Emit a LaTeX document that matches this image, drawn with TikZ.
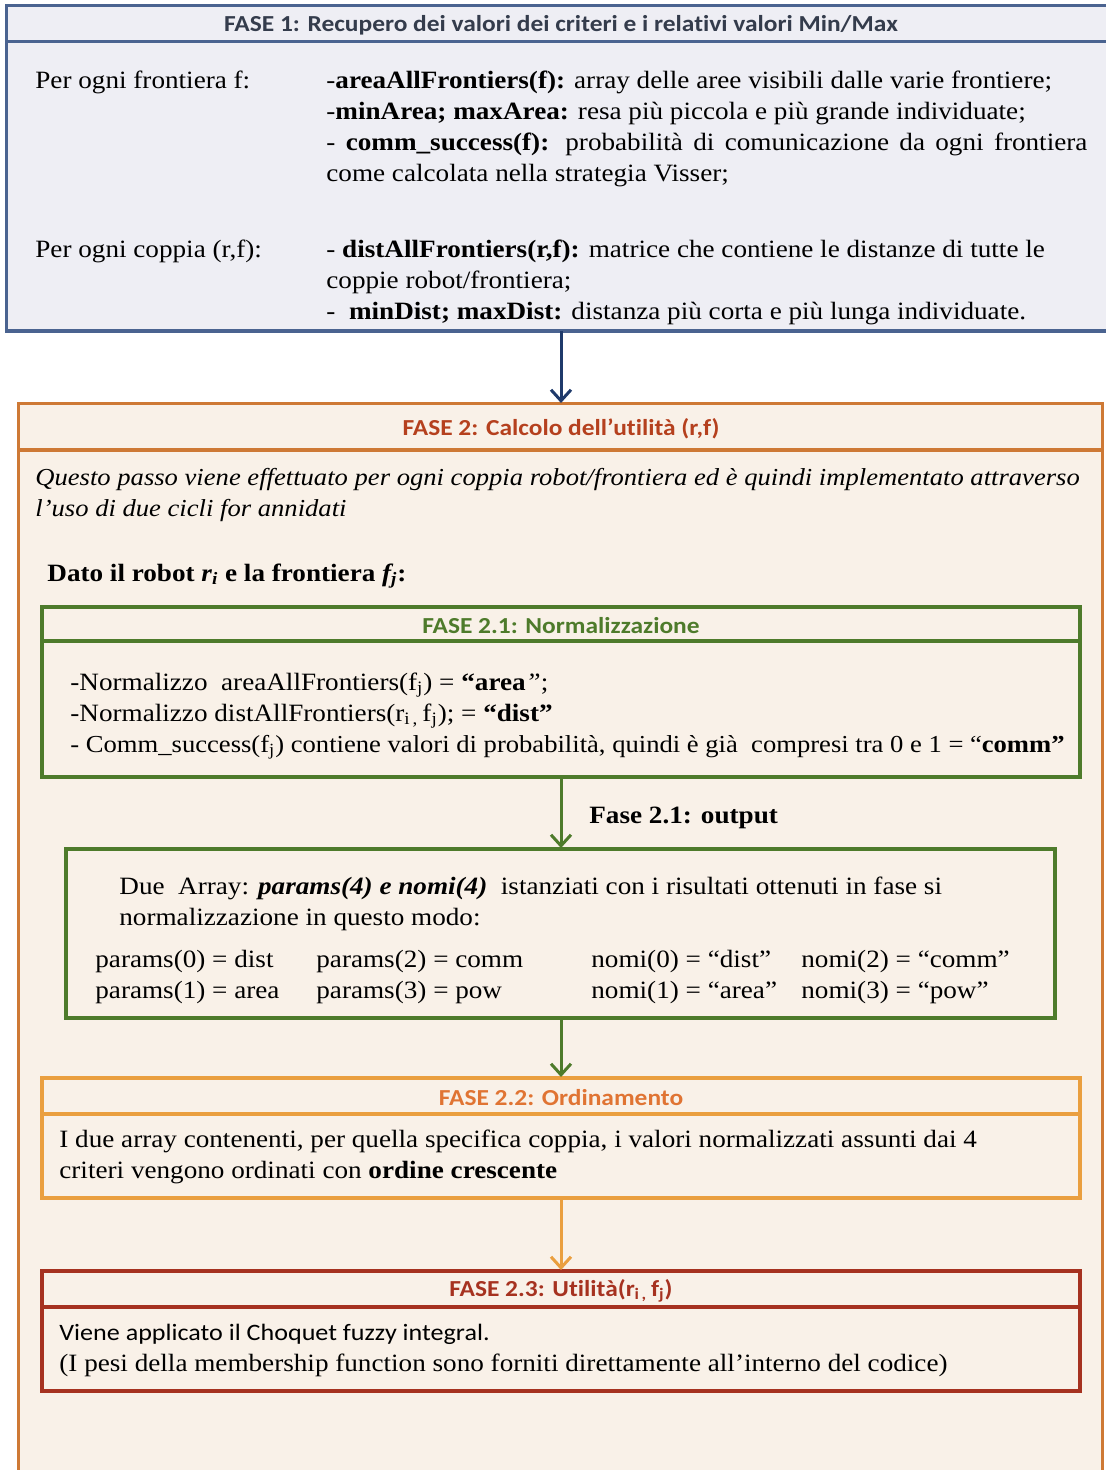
\documentclass[tikz,border=0pt]{standalone}
\usepackage{fontspec}
\setmainfont[FakeStretch=1.09]{Liberation Serif}
\newfontfamily\hdr[FakeStretch=1.11,Ligatures=NoCommon]{Carlito}
\usetikzlibrary{arrows.meta}
\definecolor{bluebd}{HTML}{4A6390}
\definecolor{bluefill}{HTML}{EEEEF4}
\definecolor{navy}{HTML}{1F3A6B}
\definecolor{hdrgray}{HTML}{343C4C}
\definecolor{orangebd}{HTML}{CE7935}
\definecolor{creamfill}{HTML}{F9F1E8}
\definecolor{hdrrust}{HTML}{B5401E}
\definecolor{greenbd}{HTML}{4E7B2B}
\definecolor{lightorange}{HTML}{EA9F3F}
\definecolor{hdrorange}{HTML}{E07433}
\definecolor{darkred}{HTML}{A63220}
\newcommand\bodysize{\fontsize{12.5}{15}\selectfont}
\tikzset{
  body/.style={anchor=base west, inner sep=0pt, font=\bodysize},
  headtxt/.style={anchor=center, inner sep=0pt, font=\hdr\bfseries\fontsize{11.5}{14}\selectfont},
  frame/.style={line width=1.6bp},
  arr/.style={line width=1.5bp, -{Straight Barb[length=5.5bp,width=10bp,line width=1.5bp]}},
}
\begin{document}
\begin{tikzpicture}[x=0.5bp,y=-0.5bp]
\useasboundingbox (0,0) rectangle (1105,1470);

% ---------- FASE 1 ----------
\path[fill=bluefill,draw=bluebd,frame] (6.5,5.5) rectangle (1120,331);
\draw[bluebd,frame] (6.5,41.5) -- (1120,41.5);
\node[headtxt,text=hdrgray] (h1) at (561,25) {FASE 1: Recupero dei valori dei criteri e i relativi valori Min/Max};
\node[body] (f1a) at (35,88) {Per ogni frontiera f:};
\node[body] (f1b) at (326,88) {-\textbf{areaAllFrontiers(f):} array delle aree visibili dalle varie frontiere;};
\node[body] (f1c) at (326,119) {-\textbf{minArea; maxArea:} resa più piccola e più grande individuate;};
\node[body] (f1d) at (326,150) {\makebox[761\dimexpr0.5bp\relax][s]{- \textbf{comm\_success(f):} probabilità di comunicazione da ogni frontiera}};
\node[body] (f1e) at (326,181) {come calcolata nella strategia Visser;};
\node[body] (f1f) at (35,257) {Per ogni coppia (r,f):};
\node[body] (f1g) at (326,257) {- \textbf{distAllFrontiers(r,f):} matrice che contiene le distanze di tutte le};
\node[body] (f1h) at (326,288) {coppie robot/frontiera;};
\node[body] (f1i) at (326,319) {-\ \ \textbf{minDist; maxDist:} distanza più corta e più lunga individuate.};

% ---------- FASE 2 ----------
\path[fill=creamfill,draw=orangebd,frame] (18.5,403.5) rectangle (1102.5,1500);
\draw[orangebd,frame] (18.5,450) -- (1102.5,450);
\node[headtxt,text=hdrrust] (h2) at (561,429) {FASE 2: Calcolo dell’utilità (r,f)};
\node[body,font=\itshape\fontsize{12.25}{15}\selectfont] (i1) at (35,485) {Questo passo viene effettuato per ogni coppia robot/frontiera ed è quindi implementato attraverso};
\node[body,font=\itshape\fontsize{12.25}{15}\selectfont] (i2) at (35,516) {l’uso di due cicli for annidati};
\node[body] (dato) at (47,581) {\textbf{Dato il robot \textit{r\textsubscript{i}} e la frontiera \textit{f\textsubscript{j}}:}};

% FASE 2.1
\path[fill=creamfill,draw=greenbd,line width=1.8bp] (42,607) rectangle (1080,777);
\draw[greenbd,line width=1.8bp] (42,641) -- (1080,641);
\node[headtxt,text=greenbd] (h21) at (561,626) {FASE 2.1: Normalizzazione};
\node[body] (n1) at (70,690) {-Normalizzo\ \ areaAllFrontiers(f\textsubscript{j}) = \textbf{“area}\textit{”};};
\node[body] (n2) at (70,721) {-Normalizzo distAllFrontiers(r\textsubscript{i\,,}\,f\textsubscript{j}); = \textbf{“dist”}};
\node[body,font=\fontsize{12.25}{15}\selectfont] (n3) at (70,752) {- Comm\_success(f\textsubscript{j}) contiene valori di probabilità, quindi è già\ \ compresi tra 0 e 1 = “\textbf{comm”}};

% output box
\path[fill=creamfill,draw=greenbd,line width=1.8bp] (66,849) rectangle (1055,1018);
\node[body] (outlbl) at (589,823) {\textbf{Fase 2.1: output}};
\node[body] (o1) at (119,894) {Due\ \ Array: \textbf{\textit{params(4) e nomi(4)}}\ \ istanziati con i risultati ottenuti in fase si};
\node[body] (o2) at (119,925) {normalizzazione in questo modo:};
\node[body] (p0) at (95,967) {params(0) = dist};
\node[body] (p2) at (316,967) {params(2) = comm};
\node[body] (m0) at (591,967) {nomi(0) = “dist”};
\node[body] (m2) at (801,967) {nomi(2) = “comm”};
\node[body] (p1) at (95,998) {params(1) = area};
\node[body] (p3) at (316,998) {params(3) = pow};
\node[body] (m1) at (591,998) {nomi(1) = “area”};
\node[body] (m3) at (801,998) {nomi(3) = “pow”};

% FASE 2.2
\path[fill=creamfill,draw=lightorange,frame] (42,1078) rectangle (1080,1198);
\draw[lightorange,frame] (42,1114) -- (1080,1114);
\node[headtxt,text=hdrorange] (h22) at (561,1098) {FASE 2.2: Ordinamento};
\node[body] (s1) at (59,1147) {I due array contenenti, per quella specifica coppia, i valori normalizzati assunti dai 4};
\node[body] (s2) at (59,1178) {criteri vengono ordinati con \textbf{ordine crescente}};

% FASE 2.3
\path[fill=creamfill,draw=darkred,line width=1.8bp] (42,1271) rectangle (1080,1391);
\draw[darkred,line width=1.8bp] (42,1307) -- (1080,1307);
\node[headtxt,text=darkred] (h23) at (561,1291) {FASE 2.3: Utilità(r\textsubscript{i\,,}\,f\textsubscript{j})};
\node[body,font=\hdr\fontsize{11.8}{14}\selectfont] (u1) at (59,1340) {Viene applicato il Choquet fuzzy integral.};
\node[body] (u2) at (59,1371) {(I pesi della membership function sono forniti direttamente all’interno del codice)};

% connector end points on the box edges
\coordinate (b1) at (561,331);
\coordinate (t2) at (561,403);
\coordinate (b21) at (561,777);
\coordinate (tout) at (561,848);
\coordinate (bout) at (561,1018);
\coordinate (t22) at (561,1077);
\coordinate (b22) at (561,1198);
\coordinate (t23) at (561,1270);

\draw[arr,navy] (b1) -- (t2);
\draw[arr,greenbd] (b21) -- (tout);
\draw[arr,greenbd] (bout) -- (t22);
\draw[arr,lightorange] (b22) -- (t23);
\end{tikzpicture}
\end{document}
